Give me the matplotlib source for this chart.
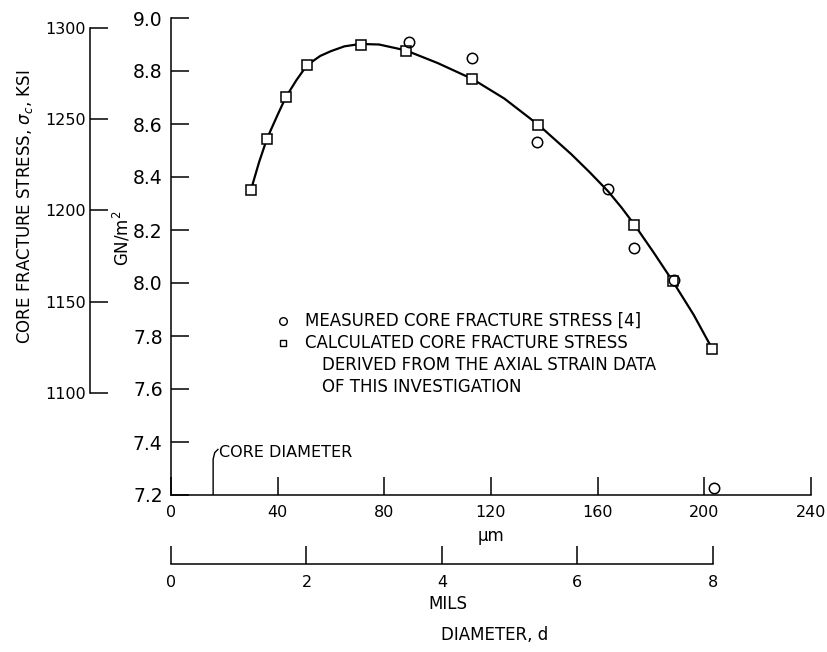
import matplotlib
matplotlib.use("Agg")
from matplotlib import pyplot as plt

plt.rcParams['font.family'] = ['DejaVu Sans']

# conversion factors
GN_PER_KSI = 0.006894757   # 1 ksi in GN/m^2
UM_PER_MIL = 25.4

# axis ticks
um_ticks = [0, 40, 80, 120, 160, 200, 240]
mil_ticks = [0, 2, 4, 6, 8]
gn_ticks = [7.2, 7.4, 7.6, 7.8, 8.0, 8.2, 8.4, 8.6, 8.8, 9.0]
ksi_ticks = [1100, 1150, 1200, 1250, 1300]

# calculated core fracture stress (squares), diameter um / GN/m^2
calc_d = [30.0, 36.0, 43.1, 50.9, 71.4, 88.3, 113.0, 137.7, 173.8, 188.4, 202.9]
calc_s = [8.352, 8.543, 8.701, 8.822, 8.900, 8.876, 8.770, 8.595, 8.217, 8.009, 7.751]

# measured core fracture stress (circles)
meas_d = [89.1, 112.7, 137.1, 164.0, 173.6, 188.6, 203.8]
meas_s = [8.910, 8.848, 8.532, 8.356, 8.133, 8.012, 7.227]

# faired curve
curve_d = [30, 33, 36, 40, 43, 47, 51, 56, 60, 65, 71, 78, 88, 100, 113, 125,
           138, 150, 157, 164, 169, 174, 181, 188, 196, 203]
curve_s = [8.352, 8.455, 8.545, 8.635, 8.700, 8.765, 8.822, 8.857, 8.875, 8.893,
           8.902, 8.900, 8.878, 8.830, 8.770, 8.696, 8.595, 8.487, 8.418, 8.345,
           8.284, 8.217, 8.115, 8.009, 7.880, 7.751]

core_d = 15.8  # core diameter marker, um

W, H = 827, 652
def fx(px): return px / W
def fy(py): return 1 - py / H

fig = plt.figure(figsize=(W / 100, H / 100), dpi=100)
fig.patch.set_facecolor('white')

left, right, top, bot = 171, 811, 18, 495
ax = fig.add_axes([fx(left), fy(bot), fx(right) - fx(left), fy(top) - fy(bot)])
ax.set_xlim(0, 240)
ax.set_ylim(7.2, 9.0)
for s in ['top', 'right']:
    ax.spines[s].set_visible(False)
for s in ['left', 'bottom']:
    ax.spines[s].set_linewidth(1.1)
ax.set_xticks(um_ticks)
ax.set_yticks(gn_ticks)
ax.set_yticklabels([f"{v:.1f}" for v in gn_ticks])
ax.tick_params(axis='both', direction='in', length=13, width=1.1)
ax.tick_params(axis='y', labelsize=13.5, pad=6)
ax.tick_params(axis='x', labelsize=11.5, pad=7)
ax.set_xlabel('\u00b5m', fontsize=12)
ax.xaxis.set_label_coords(0.5, (bot - 536) / (bot - top))
ax.xaxis.label.set_va('center')

ax.plot(curve_d, curve_s, color='black', lw=1.6, zorder=2)
ax.plot(calc_d, calc_s, ls='none', marker='s', ms=7.5, mfc='white', mec='black',
        mew=1.1, zorder=3, clip_on=False)
ax.plot(meas_d, meas_s, ls='none', marker='o', ms=7.5, mfc='none', mec='black',
        mew=1.1, zorder=4, clip_on=False)

# core diameter pointer
ax.plot([core_d, core_d, core_d + 0.6, core_d + 1.8], [7.2, 7.335, 7.36, 7.372],
        color='black', lw=1.0)
ax.text(core_d + 2.2, 7.359, 'CORE DIAMETER', fontsize=11.5, va='center', ha='left')

# legend written as text
ax.plot([42.0], [7.858], ls='none', marker='o', ms=5.5, mfc='none', mec='black', mew=1.0)
ax.plot([42.0], [7.775], ls='none', marker='s', ms=5.0, mfc='none', mec='black', mew=1.0)
ax.text(50.3, 7.858, 'MEASURED CORE FRACTURE STRESS [4]', fontsize=12, va='center')
ax.text(50.3, 7.775, 'CALCULATED CORE FRACTURE STRESS', fontsize=12, va='center')
ax.text(56.7, 7.691, 'DERIVED FROM THE AXIAL STRAIN DATA', fontsize=12, va='center')
ax.text(56.7, 7.608, 'OF THIS INVESTIGATION', fontsize=12, va='center')

# ksi axis
kax = fig.add_axes([fx(90), fy(bot), 0.001, fy(top) - fy(bot)])
kax.patch.set_visible(False)
kax.set_ylim(7.2 / GN_PER_KSI, 9.0 / GN_PER_KSI)
for s in ['top', 'right', 'bottom']:
    kax.spines[s].set_visible(False)
kax.spines['left'].set_bounds(1100, 1300)
kax.spines['left'].set_linewidth(1.1)
kax.set_xticks([])
kax.set_yticks(ksi_ticks)
kax.tick_params(axis='y', direction='in', length=13, width=1.1, labelsize=11.5, pad=3)

# mils axis
mils_y = 564
max_ = fig.add_axes([fx(left), fy(mils_y), fx(right) - fx(left), 0.001])
max_.patch.set_visible(False)
max_.set_xlim(0, 240 / UM_PER_MIL)
for s in ['top', 'right', 'left']:
    max_.spines[s].set_visible(False)
max_.spines['bottom'].set_bounds(0, 8)
max_.spines['bottom'].set_linewidth(1.1)
max_.set_yticks([])
max_.set_xticks(mil_ticks)
max_.tick_params(axis='x', direction='in', length=13, width=1.1, labelsize=11.5, pad=8)

# axis titles
fig.text(fx(448), fy(604), 'MILS', fontsize=12, ha='center', va='center')
fig.text(fx(25), fy(207), 'CORE FRACTURE STRESS, $\\sigma_c$, KSI', rotation=90,
         fontsize=12, ha='center', va='center')
fig.text(fx(122), fy(238), 'GN/m$^2$', rotation=90, fontsize=12, ha='center', va='center')
fig.text(fx(495), fy(635), 'DIAMETER, d', fontsize=12, ha='center', va='center')

fig.savefig('out.png', dpi=100, facecolor='white')
